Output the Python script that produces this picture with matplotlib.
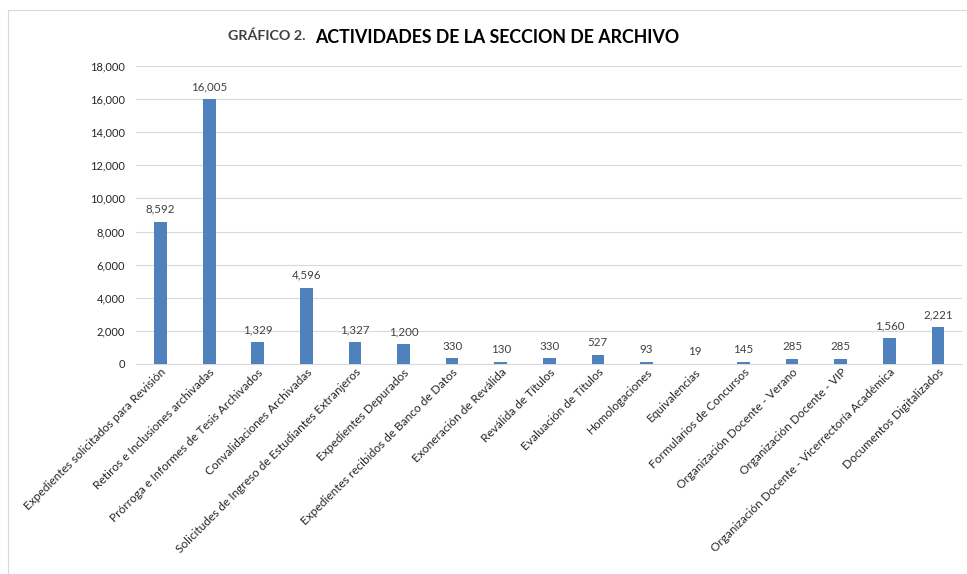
import matplotlib
matplotlib.use("Agg")
import matplotlib.pyplot as plt
from matplotlib.patches import Rectangle

plt.rcParams['font.family'] = ['Lato', 'DejaVu Sans']

categories = [
    "Expedientes solicitados para Revisión",
    "Retiros e Inclusiones archivadas",
    "Prórroga e Informes de Tesis Archivados",
    "Convalidaciones Archivadas",
    "Solicitudes de Ingreso de Estudiantes Extranjeros",
    "Expedientes Depurados",
    "Expedientes recibidos de Banco de Datos",
    "Exoneración de Reválida",
    "Reválida de Títulos",
    "Evaluación de Títulos",
    "Homologaciones",
    "Equivalencias",
    "Formularios de Concursos",
    "Organización Docente - Verano",
    "Organización Docente - VIP",
    "Organización Docente - Vicerrectoría Académica",
    "Documentos Digitalizados",
]
values = [8592, 16005, 1329, 4596, 1327, 1200, 330, 130, 330, 527, 93, 19, 145, 285, 285, 1560, 2221]
yticks = list(range(0, 18001, 2000))

fig = plt.figure(figsize=(9.67, 5.74), dpi=100)
ax = fig.add_axes([0.141, 0.366, 0.854, 0.519])

x = list(range(len(categories)))
ax.bar(x, values, width=0.26, color='#4F81BD', zorder=3)
ax.set_xlim(-0.5, len(categories) - 0.5)
ax.set_ylim(0, 18000)
ax.set_yticks(yticks)
ax.set_yticklabels([f"{v:,}" for v in yticks], fontsize=8, color='#262626')
ax.yaxis.grid(True, color='#D9D9D9', linewidth=0.8, zorder=0)
ax.tick_params(axis='y', length=0, pad=8)
ax.tick_params(axis='x', length=0, pad=2)
for s in ['top', 'right', 'left']:
    ax.spines[s].set_visible(False)
ax.spines['bottom'].set_color('#D9D9D9')
ax.set_xticks(x)
ax.set_xticklabels(categories, rotation=45, ha='right', va='top',
                   rotation_mode='anchor', fontsize=8.6, color='#262626')

for xi, v in zip(x, values):
    ax.annotate(f"{v:,}", (xi, v), xytext=(0, 5), textcoords='offset points',
                ha='center', va='bottom', fontsize=8.3, color='#404040')

fig.text(0.236, 0.937, "GRÁFICO 2.", fontsize=10.3, fontweight='bold', color='#404040',
         ha='left', va='center')
fig.text(0.326, 0.935, "ACTIVIDADES DE LA SECCION DE ARCHIVO", fontsize=12.8,
         fontweight='bold', color='black', ha='left', va='center')

fig.patches.append(Rectangle((0.008, -0.01), 1.1, 0.993, transform=fig.transFigure,
                             fill=False, edgecolor='#D9D9D9', linewidth=0.8))

fig.savefig("out.png", dpi=100)
